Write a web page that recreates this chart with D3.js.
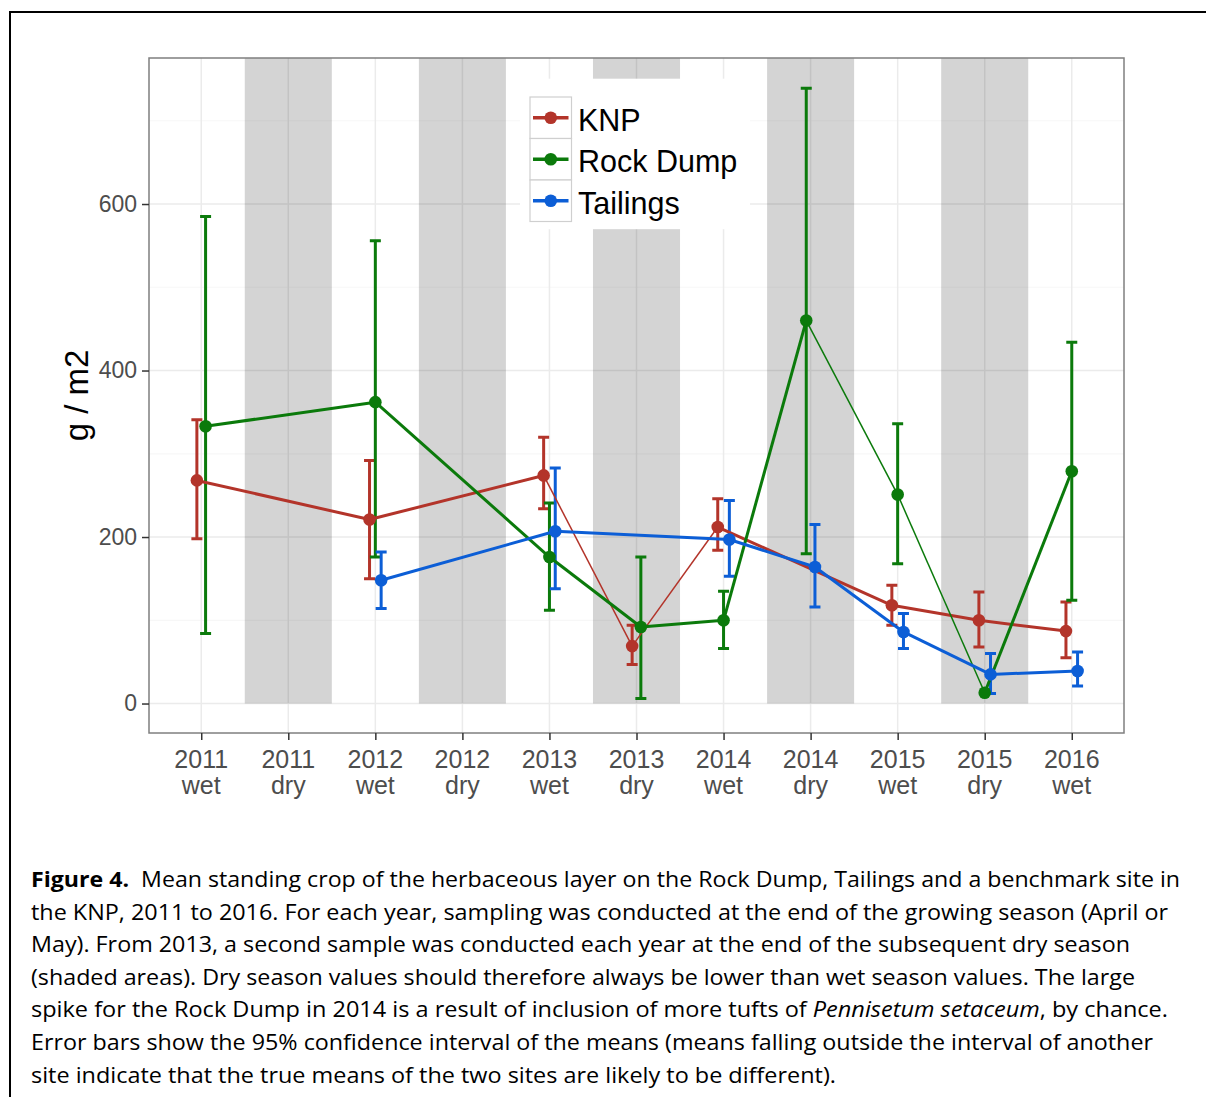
<!DOCTYPE html>
<meta charset="utf-8">
<style>
	body { margin: 0; background: #fff; }
	svg { display: block; }
	.tick text, .xlab { fill: #4d4d4d; font-family: "Liberation Sans", Arial, sans-serif; }
	.caption { font-family: "Open Sans", sans-serif; font-size: 21px; fill: #000; }
</style>
<body>
<script src="https://cdn.jsdelivr.net/npm/d3@7"></script>
<script>

	// sampling occasions along the x axis
	var categories = ["2011 wet", "2011 dry", "2012 wet", "2012 dry", "2013 wet", "2013 dry",
		"2014 wet", "2014 dry", "2015 wet", "2015 dry", "2016 wet"];
	var dryCats = ["2011 dry", "2012 dry", "2013 dry", "2014 dry", "2015 dry"];
	var sites = ["KNP", "Rock Dump", "Tailings"];
	var yTicks = [0, 200, 400, 600];

	// KNP (benchmark)
	var knpCats = ["2011 wet", "2012 wet", "2013 wet", "2013 dry", "2014 wet", "2015 wet", "2015 dry", "2016 wet"];
	var knpMean = [268, 221, 274, 69, 212, 118, 100, 87];
	var knpLo   = [198, 150, 234, 47, 184, 94, 68, 55];
	var knpHi   = [341, 292, 320, 94, 246, 142, 134, 122];

	// Rock Dump
	var rdCats = ["2011 wet", "2012 wet", "2013 wet", "2013 dry", "2014 wet", "2014 dry", "2015 wet", "2015 dry", "2016 wet"];
	var rdMean = [333, 362, 176, 92, 100, 460, 251, 13, 279];
	var rdLo   = [84, 176, 112, 6, 66, 180, 168, null, 124];
	var rdHi   = [585, 556, 241, 176, 135, 739, 336, null, 434];

	// Tailings
	var tlCats = ["2012 wet", "2013 wet", "2014 wet", "2014 dry", "2015 wet", "2015 dry", "2016 wet"];
	var tlMean = [148, 207, 197, 164, 86, 35, 39];
	var tlLo   = [114, 138, 153, 116, 66, 12, 21];
	var tlHi   = [182, 283, 244, 215, 108, 60, 62];

	var captionLines = [
		[["b", "Figure 4."], ["", "  Mean standing crop of the herbaceous layer on the Rock Dump, Tailings and a benchmark site in"]],
		[["", "the KNP, 2011 to 2016. For each year, sampling was conducted at the end of the growing season (April or"]],
		[["", "May). From 2013, a second sample was conducted each year at the end of the subsequent dry season"]],
		[["", "(shaded areas). Dry season values should therefore always be lower than wet season values. The large"]],
		[["", "spike for the Rock Dump in 2014 is a result of inclusion of more tufts of "], ["i", "Pennisetum setaceum"], ["", ", by chance."]],
		[["", "Error bars show the 95% confidence interval of the means (means falling outside the interval of another"]],
		[["", "site indicate that the true means of the two sites are likely to be different)."]]
	];

	var width = 1206, height = 1097;
	var panel = {left: 149, right: 1124, top: 58, bottom: 733};
	var color = d3.scaleOrdinal().domain(sites).range(["#b3342a", "#0b7a0b", "#0c5ed6"]);

	// build series rows
	function rows(site, cats, mean, lo, hi) {
		return cats.map(function(c, i) { return {site: site, cat: c, mean: mean[i], lo: lo[i], hi: hi[i]}; });
	}
	var series = [
		{site: "KNP", values: rows("KNP", knpCats, knpMean, knpLo, knpHi)},
		{site: "Rock Dump", values: rows("Rock Dump", rdCats, rdMean, rdLo, rdHi)},
		{site: "Tailings", values: rows("Tailings", tlCats, tlMean, tlLo, tlHi)}
	];

	var x = d3.scalePoint().domain(categories).range([panel.left, panel.right]).padding(0.6);
	var y = d3.scaleLinear().domain([-35.4, 775.4]).range([panel.bottom, panel.top]);
	var step = x.step();

	// dodge like ggplot position_dodge(width = 0.2)
	var dodgeW = 0.2;
	series.forEach(function(s) {
		s.values.forEach(function(d) {
			var present = sites.filter(function(site) {
				return series.find(function(t) { return t.site === site; }).values.some(function(v) { return v.cat === d.cat; });
			});
			var n = present.length, i = present.indexOf(d.site);
			d.x = x(d.cat) + (-dodgeW / 2 + dodgeW / n * (i + 0.5)) * step;
		});
	});

	var svg = d3.select("body").append("svg")
		.attr("width", width)
		.attr("height", height);

	// outer frame of the figure
	svg.append("path")
		.attr("d", "M10," + (height + 5) + "V12H" + (width + 5))
		.attr("fill", "none")
		.attr("stroke", "#000")
		.attr("stroke-width", 2);

	// grid
	var grid = svg.append("g");
	grid.selectAll("line.minor")
		.data([100, 300, 500, 700])
		.enter().append("line")
		.attr("x1", panel.left).attr("x2", panel.right)
		.attr("y1", function(d) { return y(d); }).attr("y2", function(d) { return y(d); })
		.attr("stroke", "#f7f7f7").attr("stroke-width", 1.2);
	grid.selectAll("line.hmajor")
		.data(yTicks)
		.enter().append("line")
		.attr("x1", panel.left).attr("x2", panel.right)
		.attr("y1", function(d) { return y(d); }).attr("y2", function(d) { return y(d); })
		.attr("stroke", "#ebebeb").attr("stroke-width", 1.5);
	grid.selectAll("line.vmajor")
		.data(categories)
		.enter().append("line")
		.attr("y1", panel.top).attr("y2", panel.bottom)
		.attr("x1", function(d) { return x(d); }).attr("x2", function(d) { return x(d); })
		.attr("stroke", "#ebebeb").attr("stroke-width", 1.5);

	// dry season shading
	svg.append("g").selectAll("rect")
		.data(dryCats)
		.enter().append("rect")
		.attr("x", function(d) { return x(d) - step / 2; })
		.attr("width", step)
		.attr("y", panel.top)
		.attr("height", y(0) - panel.top)
		.attr("fill", "#000")
		.attr("fill-opacity", 0.17);

	// error bars
	var capW = 11;
	var eb = svg.append("g");
	series.forEach(function(s) {
		var g = eb.append("g").attr("stroke", color(s.site)).attr("stroke-width", 3).attr("fill", "none");
		var v = s.values.filter(function(d) { return d.lo != null; });
		g.selectAll("path")
			.data(v)
			.enter().append("path")
			.attr("d", function(d) {
				var x0 = d.x - capW / 2, x1 = d.x + capW / 2;
				return "M" + x0 + "," + y(d.hi) + "H" + x1 + "M" + d.x + "," + y(d.hi) + "V" + y(d.lo) +
					"M" + x0 + "," + y(d.lo) + "H" + x1;
			});
	});

	// connecting lines, a few segments come out thinner in the original figure
	var thinFrom = {"KNP": ["2013 wet", "2013 dry"], "Rock Dump": ["2014 dry", "2015 wet"], "Tailings": []};
	var lines = svg.append("g");
	series.forEach(function(s) {
		var segs = d3.pairs(s.values);
		lines.append("g").selectAll("line")
			.data(segs)
			.enter().append("line")
			.attr("x1", function(p) { return p[0].x; })
			.attr("y1", function(p) { return y(p[0].mean); })
			.attr("x2", function(p) { return p[1].x; })
			.attr("y2", function(p) { return y(p[1].mean); })
			.attr("stroke", color(s.site))
			.attr("stroke-width", function(p) { return thinFrom[s.site].indexOf(p[0].cat) >= 0 ? 1.5 : 3; });
	});

	// points
	var pts = svg.append("g");
	series.forEach(function(s) {
		pts.append("g").selectAll("circle")
			.data(s.values)
			.enter().append("circle")
			.attr("cx", function(d) { return d.x; })
			.attr("cy", function(d) { return y(d.mean); })
			.attr("r", 6.3)
			.attr("fill", color(s.site));
	});

	// panel border
	svg.append("rect")
		.attr("x", panel.left).attr("y", panel.top)
		.attr("width", panel.right - panel.left).attr("height", panel.bottom - panel.top)
		.attr("fill", "none").attr("stroke", "#7f7f7f").attr("stroke-width", 1.5);

	// axes
	var yAxis = svg.append("g")
		.attr("transform", "translate(" + panel.left + ",0)")
		.call(d3.axisLeft(y).tickValues(yTicks).tickSize(7).tickPadding(5).tickFormat(d3.format("d")));
	yAxis.select(".domain").remove();
	yAxis.selectAll(".tick line").attr("stroke", "#333").attr("stroke-width", 1.5);
	yAxis.selectAll(".tick text").style("font-size", "23px");

	var xAxis = svg.append("g")
		.attr("transform", "translate(0," + panel.bottom + ")")
		.call(d3.axisBottom(x).tickSize(7).tickFormat(""));
	xAxis.select(".domain").remove();
	xAxis.selectAll(".tick text").remove();
	xAxis.selectAll(".tick line").attr("stroke", "#333").attr("stroke-width", 1.5);

	// two-line category labels
	var xl = svg.append("g");
	[0, 1].forEach(function(k) {
		xl.selectAll("text.l" + k)
			.data(categories)
			.enter().append("text")
			.attr("class", "xlab l" + k)
			.attr("x", function(d) { return x(d); })
			.attr("y", panel.bottom + (k === 0 ? 35 : 61))
			.attr("text-anchor", "middle")
			.style("font-size", "25px")
			.text(function(d) { return d.split(" ")[k]; });
	});

	// y axis title
	svg.append("text")
		.attr("transform", "translate(88," + ((panel.top + panel.bottom) / 2) + ") rotate(-90)")
		.attr("text-anchor", "middle")
		.style("font-family", "'Liberation Sans', Arial, sans-serif")
		.style("font-size", "33px")
		.text("g / m2");

	// legend
	var leg = svg.append("g");
	leg.append("rect")
		.attr("x", 520).attr("y", 78.7).attr("width", 230).attr("height", 150.5)
		.attr("fill", "#fff");
	var keyH = 41.5;
	var item = leg.selectAll("g.item")
		.data(sites)
		.enter().append("g")
		.attr("transform", function(d, i) { return "translate(530," + (97 + i * keyH) + ")"; });
	item.append("rect")
		.attr("width", keyH).attr("height", keyH)
		.attr("fill", "#fff").attr("stroke", "#cfcfcf").attr("stroke-width", 1.2);
	item.append("line")
		.attr("x1", 3).attr("x2", keyH - 3)
		.attr("y1", keyH / 2).attr("y2", keyH / 2)
		.attr("stroke", function(d) { return color(d); }).attr("stroke-width", 3.5);
	item.append("circle")
		.attr("cx", keyH / 2).attr("cy", keyH / 2).attr("r", 6.3)
		.attr("fill", function(d) { return color(d); });
	item.append("text")
		.attr("x", 48).attr("y", keyH / 2 + 13)
		.style("font-family", "'Liberation Sans', Arial, sans-serif")
		.style("font-size", "30.5px")
		.text(function(d) { return d; });

	// caption
	var capWidths = [1149, 1137, 1099, 1104, 1137, 1122, 805];
	var cap = svg.append("g");
	captionLines.forEach(function(line, i) {
		var t = cap.append("text")
			.attr("class", "caption")
			.attr("x", 31)
			.attr("y", 887 + i * 32.6)
			.attr("textLength", capWidths[i])
			.attr("lengthAdjust", "spacingAndGlyphs")
			.attr("xml:space", "preserve");
		line.forEach(function(part) {
			var sp = t.append("tspan").text(part[1]);
			if (part[0] === "b") sp.style("font-weight", "bold");
			if (part[0] === "i") sp.style("font-style", "italic");
		});
	});

</script>
</body>
</html>
